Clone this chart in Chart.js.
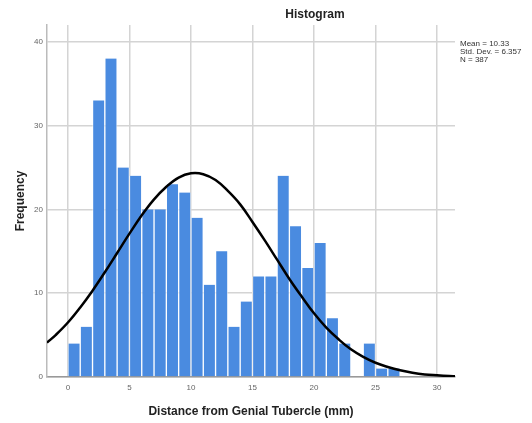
<!DOCTYPE html>
<html>
<head>
<meta charset="utf-8">
<script src="https://cdn.jsdelivr.net/npm/chart.js@4.4.0/dist/chart.umd.min.js"></script>
<style>
  html, body { margin: 0; padding: 0; background: #fff; }
  #wrap { width: 532px; height: 423px; position: relative; }
</style>
</head>
<body>
<div id="wrap"><canvas id="hist"></canvas></div>
<script>
// bin start (mm), width 1
const binStarts = [0, 1, 2, 3, 4, 5, 6, 7, 8, 9, 10, 11, 12, 13, 14, 15, 16, 17, 18, 19, 20, 21, 22, 23, 24, 25, 26];
const frequencies = [4, 6, 33, 38, 25, 24, 20, 20, 23, 22, 19, 11, 15, 6, 9, 12, 12, 24, 18, 13, 16, 7, 4, 0, 4, 1, 1];

// normal curve
const curveX = [-1.7, -1, 0, 1, 2, 3, 4, 5, 6, 7, 8, 9, 10, 11, 12, 13, 14, 15, 16, 17, 18, 19, 20, 21, 22, 23, 24, 25, 26, 27, 28, 29, 30, 31, 31.5];
const curveY = [4.1, 5.0, 6.5, 8.3, 10.3, 12.5, 14.8, 17.1, 19.3, 21.2, 22.7, 23.8, 24.3, 24.2, 23.5, 22.2, 20.6, 18.5, 16.3, 14.0, 11.7, 9.6, 7.6, 5.9, 4.5, 3.3, 2.4, 1.7, 1.2, 0.8, 0.5, 0.3, 0.2, 0.12, 0.09];

const xTicks = [0, 5, 10, 15, 20, 25, 30];
const yTicks = [0, 10, 20, 30, 40];
const statLines = ['Mean = 10.33', 'Std. Dev. = 6.357', 'N = 387'];

const FONT = '"Liberation Sans", Arial, sans-serif';

const textPlugin = {
    id: 'extraText',
    afterDraw(chart) {
        const c = chart.ctx;
        const area = chart.chartArea;
        c.save();
        c.fillStyle = '#222';
        c.font = 'bold 12px ' + FONT;
        c.textAlign = 'center';
        c.textBaseline = 'middle';
        c.fillText('Histogram', 315, 15);

        c.font = '8px ' + FONT;
        c.textAlign = 'left';
        c.fillStyle = '#333';
        statLines.forEach((t, i) => {
            c.fillText(t, area.right + 5, 44 + i * 8);
        });
        c.restore();
    }
};

new Chart(document.getElementById('hist'), {
    type: 'bar',
    data: {
        datasets: [
            {
                type: 'line',
                data: curveX.map((x, i) => ({ x: x, y: curveY[i] })),
                borderColor: '#000',
                borderWidth: 2.5,
                pointRadius: 0,
                tension: 0.4,
                fill: false,
                clip: 0,
                order: 0
            },
            {
                type: 'bar',
                data: binStarts.map((b, i) => ({ x: b + 0.5, y: frequencies[i] })),
                backgroundColor: '#4a8be0',
                borderColor: 'rgba(255,255,255,0.55)',
                borderWidth: { left: 1, right: 1, top: 0, bottom: 0 },
                borderSkipped: false,
                barPercentage: 1,
                categoryPercentage: 1,
                order: 1
            }
        ]
    },
    options: {
        responsive: true,
        maintainAspectRatio: false,
        animation: false,
        layout: { padding: { top: 25, right: 77, left: 9, bottom: 0 } },
        plugins: {
            legend: { display: false },
            tooltip: { enabled: false },
            title: { display: false }
        },
        scales: {
            x: {
                type: 'linear',
                min: -1.7,
                max: 31.46,
                offset: false,
                afterBuildTicks: (s) => { s.ticks = xTicks.map(v => ({ value: v })); },
                afterFit: (s) => { s.height = 46; },
                ticks: {
                    color: '#666',
                    font: { family: FONT, size: 8 },
                    padding: 6,
                    maxRotation: 0
                },
                grid: { color: '#d4d4d4', lineWidth: 1.5, drawTicks: false, offset: false },
                border: { color: '#999', width: 1.5 },
                title: {
                    display: true,
                    text: 'Distance from Genial Tubercle (mm)',
                    color: '#222',
                    font: { family: FONT, size: 12, weight: 'bold' },
                    padding: { top: 12 }
                }
            },
            y: {
                min: 0,
                max: 42,
                afterBuildTicks: (s) => { s.ticks = yTicks.map(v => ({ value: v })); },
                afterFit: (s) => { s.width = 38; },
                ticks: {
                    color: '#666',
                    font: { family: FONT, size: 8 },
                    padding: 4
                },
                grid: { color: '#d4d4d4', lineWidth: 1.5, drawTicks: false },
                border: { color: '#bbb', width: 1.5 },
                title: {
                    display: true,
                    text: 'Frequency',
                    color: '#222',
                    font: { family: FONT, size: 12, weight: 'bold' },
                    padding: { bottom: 8 }
                }
            }
        }
    },
    plugins: [textPlugin]
});
</script>
</body>
</html>
